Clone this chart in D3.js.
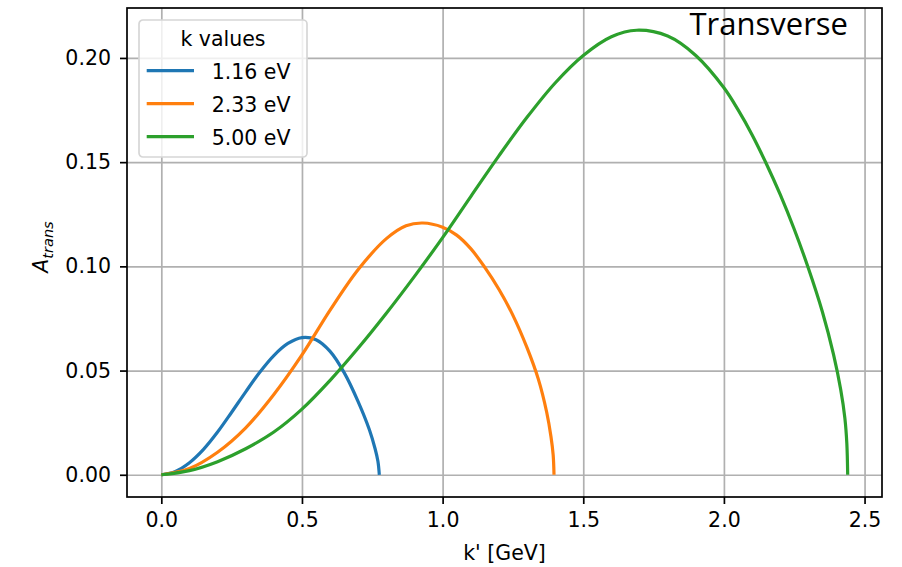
<!DOCTYPE html>
<html>
<head>
<meta charset="utf-8">
<script src="https://cdn.jsdelivr.net/npm/d3@7"></script>
<style>
  body { margin: 0; background: #fff; }
  svg { display: block; }
  text { font-family: "DejaVu Sans", sans-serif; }
</style>
</head>
<body>
<svg id="chart" width="902" height="567"></svg>
<script>
// values
var series_names = ["1.16 eV", "2.33 eV", "5.00 eV"];
var series_colors = ["#1f77b4", "#ff7f0e", "#2ca02c"];

var k_116 = [0, 0.05, 0.1, 0.15, 0.2, 0.25, 0.3, 0.35, 0.4, 0.45, 0.5, 0.55, 0.6, 0.65, 0.7, 0.74, 0.76, 0.77, 0.775];
var a_116 = [0, 0.0016, 0.0058, 0.0122, 0.0205, 0.0300, 0.0398, 0.0492, 0.0572, 0.0630, 0.0658, 0.0648, 0.0592, 0.0490, 0.0350, 0.0215, 0.0125, 0.0065, 0];

var k_233 = [0, 0.1, 0.2, 0.3, 0.4, 0.5, 0.6, 0.7, 0.8, 0.87, 0.93, 1.0, 1.05, 1.1, 1.15, 1.2, 1.25, 1.3, 1.34, 1.37, 1.385, 1.393, 1.396];
var a_233 = [0, 0.0030, 0.0108, 0.0225, 0.0385, 0.0575, 0.0790, 0.0985, 0.1133, 0.1195, 0.1208, 0.1188, 0.1150, 0.1085, 0.0995, 0.0890, 0.0765, 0.0610, 0.0460, 0.0300, 0.0185, 0.0095, 0];

var k_500 = [0, 0.1, 0.2, 0.3, 0.4, 0.5, 0.6, 0.7, 0.8, 0.9, 1.0, 1.1, 1.2, 1.3, 1.4, 1.5, 1.6, 1.69, 1.8, 1.9, 2.0, 2.05, 2.1, 2.15, 2.2, 2.25, 2.3, 2.35, 2.39, 2.415, 2.43, 2.437, 2.44];
var a_500 = [0, 0.0020, 0.0063, 0.0125, 0.0205, 0.0315, 0.0453, 0.0608, 0.0775, 0.0952, 0.1138, 0.1335, 0.1530, 0.1715, 0.1880, 0.2012, 0.2102, 0.2133, 0.2105, 0.2012, 0.1857, 0.1752, 0.1632, 0.1495, 0.1345, 0.1178, 0.0992, 0.0782, 0.0575, 0.0410, 0.0272, 0.0150, 0];

var x_ticks = [0, 0.5, 1.0, 1.5, 2.0, 2.5];
var y_ticks = [0, 0.05, 0.10, 0.15, 0.20];

var all_k = [k_116, k_233, k_500];
var all_a = [a_116, a_233, a_500];

var svg = d3.select("#chart");

var margin = {top: 8, right: 20, bottom: 70, left: 127},
    width = 902 - margin.left - margin.right,
    height = 567 - margin.top - margin.bottom;

var g = svg.append("g")
    .attr("transform", "translate(" + margin.left + "," + margin.top + ")");

// matplotlib style 5% margins
var xmax = d3.max(k_500), ymax = d3.max(a_500);
var x = d3.scaleLinear().domain([-0.05 * xmax, xmax * 1.05]).range([0, width]);
var y = d3.scaleLinear().domain([-0.05 * ymax, ymax * 1.05]).range([height, 0]);

// grid
g.append("g")
    .attr("transform", "translate(0," + height + ")")
    .call(d3.axisBottom(x).tickValues(x_ticks).tickSize(-height).tickFormat(""))
    .call(function(s) { s.select(".domain").remove(); })
    .selectAll("line").attr("stroke", "#b0b0b0").attr("stroke-width", 1.7);
g.append("g")
    .call(d3.axisLeft(y).tickValues(y_ticks).tickSize(-width).tickFormat(""))
    .call(function(s) { s.select(".domain").remove(); })
    .selectAll("line").attr("stroke", "#b0b0b0").attr("stroke-width", 1.7);

// curves
var line = d3.line()
    .x(function(d) { return x(d[0]); })
    .y(function(d) { return y(d[1]); })
    .curve(d3.curveCatmullRom.alpha(0.5));

all_k.forEach(function(ks, i) {
  var pts = ks.map(function(k, j) { return [k, all_a[i][j]]; });
  g.append("path")
      .datum(pts)
      .attr("fill", "none")
      .attr("stroke", series_colors[i])
      .attr("stroke-width", 3.2)
      .attr("stroke-linejoin", "round")
      .attr("d", line);
});

// axes
var xAxis = g.append("g")
    .attr("transform", "translate(0," + height + ")")
    .call(d3.axisBottom(x).tickValues(x_ticks).tickFormat(d3.format(".1f")).tickSize(7).tickPadding(8).tickSizeOuter(0));
var yAxis = g.append("g")
    .call(d3.axisLeft(y).tickValues(y_ticks).tickFormat(d3.format(".2f")).tickSize(7).tickPadding(9).tickSizeOuter(0));
[xAxis, yAxis].forEach(function(a) {
  a.select(".domain").remove();
  a.selectAll("line").attr("stroke", "#000").attr("stroke-width", 1.7);
  a.selectAll("text").attr("fill", "#000").style("font-size", "20.5px").style("font-family", "DejaVu Sans");
});

// frame
g.append("rect")
    .attr("width", width).attr("height", height)
    .attr("fill", "none").attr("stroke", "#000").attr("stroke-width", 1.7);

// axis labels
svg.append("text")
    .attr("x", margin.left + width / 2)
    .attr("y", 560)
    .attr("text-anchor", "middle")
    .style("font-size", "20.5px")
    .text("k' [GeV]");

var ylab = svg.append("text")
    .attr("transform", "translate(48,247) rotate(-90)")
    .attr("text-anchor", "middle")
    .style("font-size", "20.5px")
    .style("font-style", "italic");
ylab.append("tspan").text("A");
ylab.append("tspan").attr("dy", 5).style("font-size", "14.5px").text("trans");

// Transverse label
svg.append("text")
    .attr("x", 848)
    .attr("y", 35)
    .attr("text-anchor", "end")
    .style("font-family", "'Open Sans', Lato, sans-serif")
    .style("font-size", "31px")
    .text("Transverse");

// legend
var lg = svg.append("g").attr("transform", "translate(139,20)");
lg.append("rect")
    .attr("width", 168).attr("height", 137)
    .attr("rx", 4).attr("ry", 4)
    .attr("fill", "#fff").attr("fill-opacity", 0.8)
    .attr("stroke", "#d6d6d6").attr("stroke-width", 1.7);
lg.append("text")
    .attr("x", 84).attr("y", 25.7)
    .attr("text-anchor", "middle")
    .style("font-size", "20.5px")
    .text("k values");
series_names.forEach(function(name, i) {
  var cy = 50.7 + i * 33;
  lg.append("line")
      .attr("x1", 7.7).attr("x2", 55)
      .attr("y1", cy).attr("y2", cy)
      .attr("stroke", series_colors[i]).attr("stroke-width", 3.2);
  lg.append("text")
      .attr("x", 72.7).attr("y", cy + 8.5)
      .style("font-size", "20.5px")
      .text(name);
});
</script>
</body>
</html>
